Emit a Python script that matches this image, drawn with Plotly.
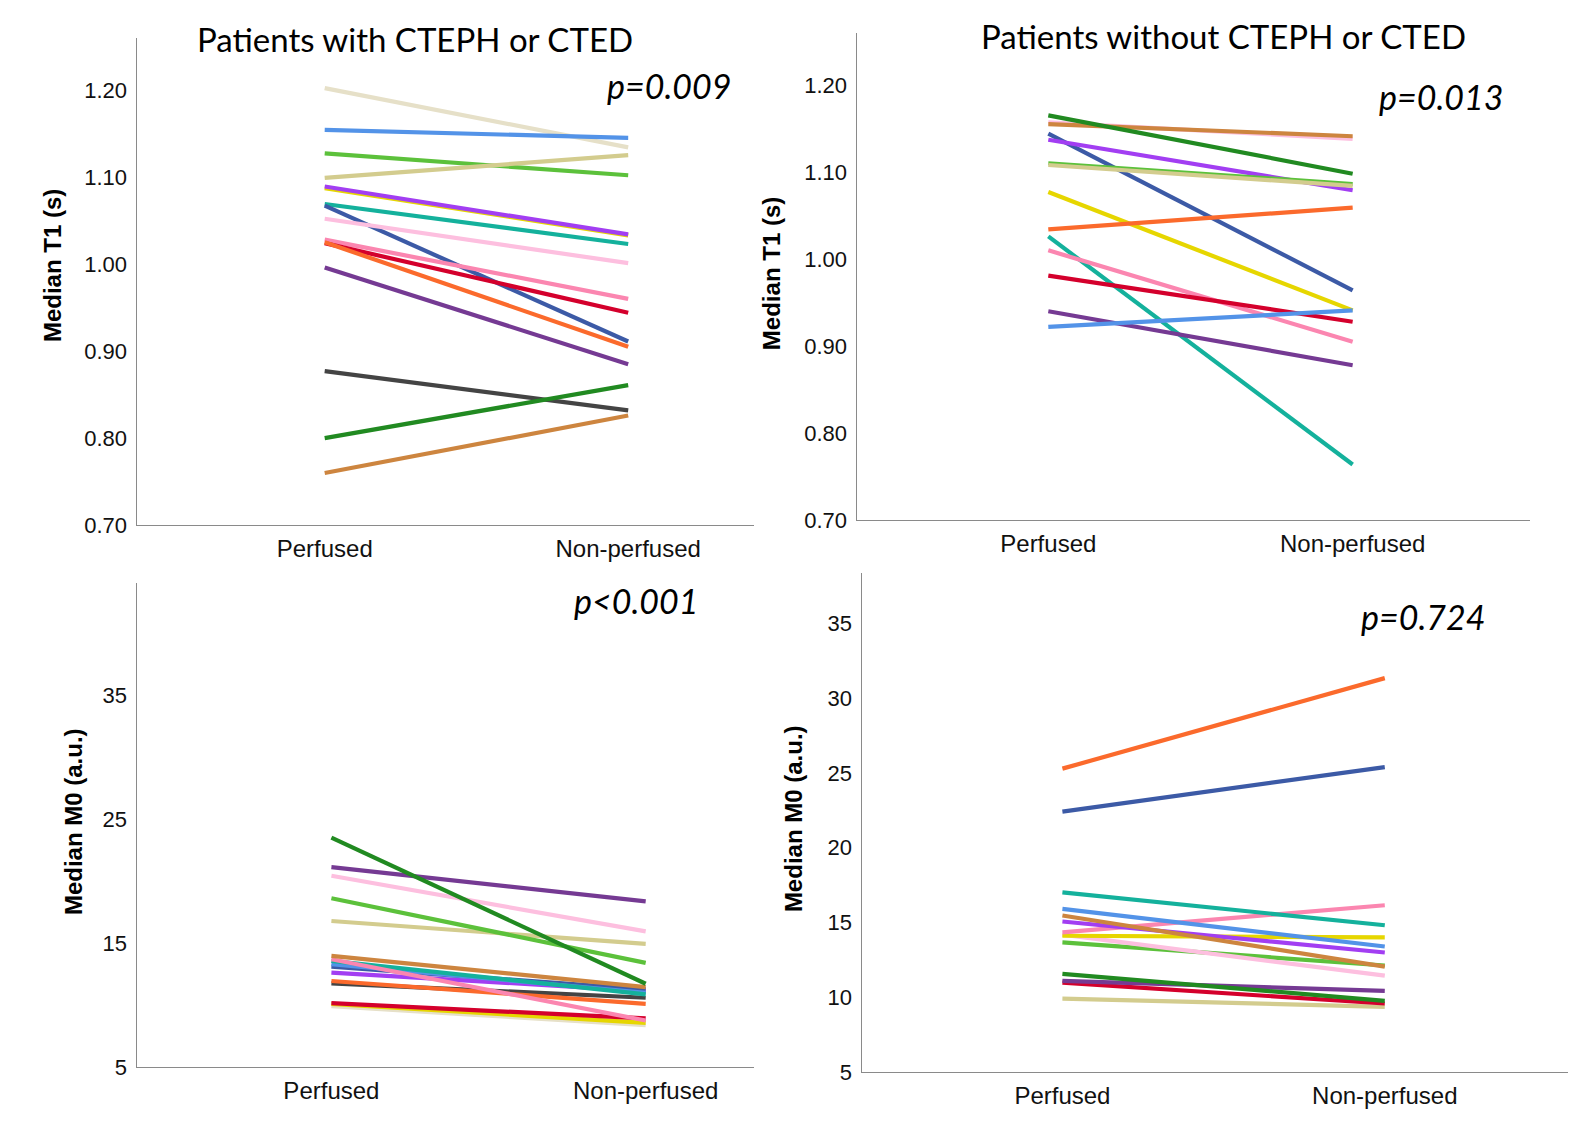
import plotly.graph_objects as go

W, H = 1560, 1108

# empirical mapping from reference pixel position to figure coordinates
def fx(px):
    return ((px - 7.0) / 0.9958) / W


def fy(py):
    return 1 - ((py - 8.5) / 0.983) / H


categories = ["Perfused", "Non-perfused"]

PALETTE = {
    "beige": "#e6e0c8", "lightblue": "#5393e8", "lime": "#5cc13b", "khaki": "#d3cc8e",
    "yellow": "#e6d600", "purple": "#a23ef2", "teal": "#14b19c", "darkblue": "#3c5aa6",
    "lightpink": "#fdbfdf", "pink": "#fb86b0", "red": "#d4002c", "orange": "#fb6a2c",
    "darkpurple": "#753a93", "darkgray": "#444444", "darkgreen": "#218a21", "brown": "#cd853f",
}

# ---- Panel A: CTEPH/CTED, Median T1 ----
t1_cteph_colors = ["beige", "lightblue", "lime", "khaki", "yellow", "purple", "teal", "darkblue",
                   "lightpink", "pink", "red", "orange", "darkpurple", "darkgray", "darkgreen", "brown"]
t1_cteph_perf = [1.202, 1.154, 1.127, 1.099, 1.087, 1.089, 1.069, 1.067,
                 1.052, 1.028, 1.024, 1.025, 0.996, 0.877, 0.800, 0.760]
t1_cteph_nonperf = [1.134, 1.145, 1.102, 1.125, 1.033, 1.034, 1.023, 0.911,
                    1.001, 0.960, 0.944, 0.905, 0.885, 0.832, 0.861, 0.826]

# ---- Panel B: no CTEPH/CTED, Median T1 ----
t1_none_colors = ["lightpink", "brown", "darkgreen", "darkblue", "purple", "lime", "khaki", "yellow",
                  "orange", "teal", "pink", "red", "darkpurple", "lightblue"]
t1_none_perf = [1.157, 1.155, 1.165, 1.144, 1.137, 1.110, 1.108, 1.077,
                1.034, 1.026, 1.010, 0.981, 0.940, 0.922]
t1_none_nonperf = [1.138, 1.141, 1.098, 0.964, 1.079, 1.086, 1.084, 0.941,
                   1.059, 0.764, 0.905, 0.928, 0.878, 0.941]

# ---- Panel C: CTEPH/CTED, Median M0 ----
m0_cteph_colors = ["beige", "yellow", "red", "darkgray", "orange", "purple", "darkblue", "lightblue",
                   "teal", "pink", "brown", "khaki", "lime", "lightpink", "darkpurple", "darkgreen"]
m0_cteph_perf = [9.92, 10.11, 10.17, 11.76, 11.95, 12.62, 13.11, 13.30,
                 13.57, 13.71, 13.98, 16.79, 18.63, 20.44, 21.14, 23.52]
m0_cteph_nonperf = [8.38, 8.57, 8.93, 10.60, 10.11, 11.14, 11.28, 11.00,
                    10.87, 8.76, 11.46, 14.95, 13.41, 15.95, 18.38, 11.73]

# ---- Panel D: no CTEPH/CTED, Median M0 ----
m0_none_colors = ["khaki", "red", "darkpurple", "darkgreen", "lime", "lightpink", "yellow", "pink",
                  "purple", "brown", "lightblue", "teal", "darkblue", "orange"]
m0_none_perf = [9.91, 10.98, 11.10, 11.57, 13.67, 14.19, 14.12, 14.35,
                15.07, 15.47, 15.91, 17.02, 22.42, 25.29]
m0_none_nonperf = [9.37, 9.59, 10.43, 9.77, 12.13, 11.45, 14.01, 16.16,
                   13.00, 12.06, 13.40, 14.82, 25.39, 31.34]

titles = ["Patients with CTEPH or CTED", "Patients without CTEPH or CTED"]
p_values = ["p=0.009", "p=0.013", "p<0.001", "p=0.724"]
y_titles = ["Median T1 (s)", "Median T1 (s)", "Median M0 (a.u.)", "Median M0 (a.u.)"]
t1_ticks = [0.70, 0.80, 0.90, 1.00, 1.10, 1.20]
m0_ticks_c = [5, 15, 25, 35]
m0_ticks_d = [5, 10, 15, 20, 25, 30, 35]

# pixel layout of each panel (reference px): (x0, x1, ytop, ybottom), x range, y range
panels = [
    dict(box=(135, 750, 38, 523), xr=[-0.62, 1.415], yr=[0.70, 1.260], ticks=t1_ticks, fmt=".2f",
         data=(t1_cteph_colors, t1_cteph_perf, t1_cteph_nonperf)),
    dict(box=(852, 1523, 33, 518), xr=[-0.63, 1.584], yr=[0.70, 1.260], ticks=t1_ticks, fmt=".2f",
         data=(t1_none_colors, t1_none_perf, t1_none_nonperf)),
    dict(box=(135, 750, 580, 1062), xr=[-0.62, 1.345], yr=[5, 44.1], ticks=m0_ticks_c, fmt="d",
         data=(m0_cteph_colors, m0_cteph_perf, m0_cteph_nonperf)),
    dict(box=(857, 1560, 570, 1067), xr=[-0.623, 1.567], yr=[5, 38.4], ticks=m0_ticks_d, fmt="d",
         data=(m0_none_colors, m0_none_perf, m0_none_nonperf)),
]

fig = go.Figure()
layout = dict(width=W, height=H, margin=dict(l=0, r=0, t=0, b=0),
              paper_bgcolor="white", plot_bgcolor="white", showlegend=False)

TICKFONT = dict(family="Liberation Sans, Arial, sans-serif", size=22, color="#111111")
CATFONT = dict(family="Liberation Sans, Arial, sans-serif", size=24, color="#111111")

for i, p in enumerate(panels):
    n = "" if i == 0 else str(i + 1)
    x0, x1, yt, yb = p["box"]
    xa = dict(domain=[fx(x0), fx(x1)], range=p["xr"], showgrid=False, zeroline=False,
              showline=True, linecolor="#8a8a8a", linewidth=1.3, ticks="",
              tickmode="array", tickvals=[0, 1], ticktext=categories, tickfont=CATFONT,
              ticklabelstandoff=2, anchor="y" + n, fixedrange=True)
    ya = dict(domain=[fy(yb), fy(yt)], range=p["yr"], showgrid=False, zeroline=False,
              showline=True, linecolor="#8a8a8a", linewidth=1.3, ticks="",
              tickmode="array", tickvals=p["ticks"], tickformat=p["fmt"], tickfont=TICKFONT,
              ticklabelstandoff=4, anchor="x" + n, fixedrange=True)
    layout["xaxis" + n] = xa
    layout["yaxis" + n] = ya
    cols, perf, nonperf = p["data"]
    for c, a, b in zip(cols, perf, nonperf):
        fig.add_trace(go.Scatter(x=[0, 1], y=[a, b], mode="lines",
                                 line=dict(color=PALETTE[c], width=4.2),
                                 xaxis="x" + n, yaxis="y" + n, hoverinfo="skip"))

TITLEFONT = dict(family="Lato, Open Sans, sans-serif", size=33, color="#000000")
PFONT = dict(family="Lato, Open Sans, sans-serif", size=34, color="#000000", style="italic")
YTFONT = dict(family="Liberation Sans, Arial, sans-serif", size=24, color="#000000", weight="bold")

annotations = []
title_pos = [(412, 39), (1217, 36)]
for t, (px, py) in zip(titles, title_pos):
    annotations.append(dict(text=t, x=fx(px), y=fy(py), xref="paper", yref="paper",
                            showarrow=False, font=TITLEFONT, xanchor="center", yanchor="middle"))
p_pos = [(666, 86), (1434, 97), (633, 598), (1417, 614)]
for t, (px, py) in zip(p_values, p_pos):
    annotations.append(dict(text=t, x=fx(px), y=fy(py), xref="paper", yref="paper",
                            showarrow=False, font=PFONT, xanchor="center", yanchor="middle"))
yt_pos = [(52, 265), (768, 273), (73, 818), (790, 815)]
for t, (px, py) in zip(y_titles, yt_pos):
    annotations.append(dict(text=t, x=fx(px), y=fy(py), xref="paper", yref="paper",
                            showarrow=False, font=YTFONT, textangle=-90,
                            xanchor="center", yanchor="middle"))
layout["annotations"] = annotations

fig.update_layout(**layout)
fig.write_html("out.html")
